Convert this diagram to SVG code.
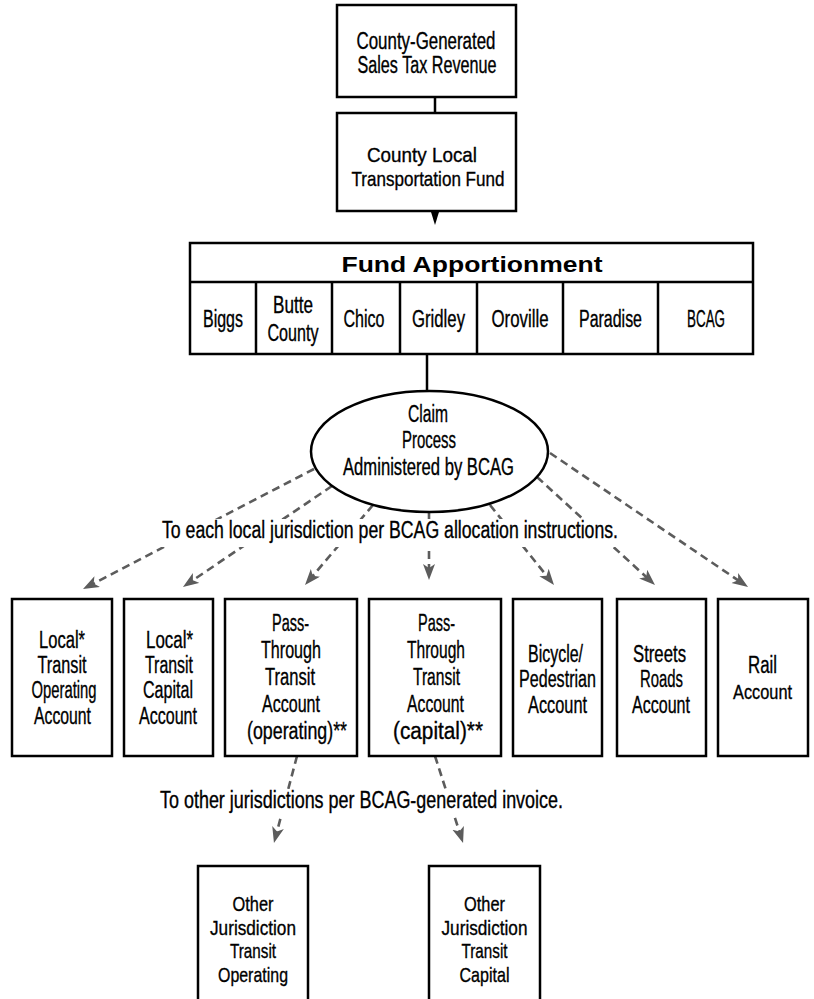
<svg xmlns="http://www.w3.org/2000/svg" width="814" height="999" viewBox="0 0 814 999">
<style>
.box{fill:#fff;stroke:#000;stroke-width:2.5}
.ln{fill:none;stroke:#000;stroke-width:2.5}
.da{fill:none;stroke:#5c5c5c;stroke-width:2.6;stroke-dasharray:8 5}
text{font-family:"Liberation Sans",Arial,sans-serif;font-size:23px;fill:#000;stroke:#000;stroke-width:0.35;text-anchor:middle}
.sm{font-size:21px}
.hd{font-weight:bold;font-size:22px;stroke-width:0}
</style>
<defs>
<marker id="ah" markerUnits="userSpaceOnUse" markerWidth="18" markerHeight="14" refX="8" refY="6" orient="auto">
<path d="M0,0 L16,6 L0,12 L4,6 z" fill="#5c5c5c"/>
</marker>
</defs>
<g id="connectors">
<line class="ln" x1="435" y1="97" x2="435" y2="113"/>
<path d="M431,212 L439,212 L435,225 z" fill="#000"/>
<line class="ln" x1="427" y1="354" x2="427" y2="391"/>
<line class="da" x1="314" y1="469" x2="90.1" y2="585.3" marker-end="url(#ah)"/>
<line class="da" x1="332" y1="486" x2="189.6" y2="582.5" marker-end="url(#ah)"/>
<line class="da" x1="373" y1="505" x2="310.2" y2="578.9" marker-end="url(#ah)"/>
<line class="da" x1="429" y1="512" x2="429" y2="572" marker-end="url(#ah)"/>
<line class="da" x1="490" y1="505" x2="549" y2="578.8" marker-end="url(#ah)"/>
<line class="da" x1="537" y1="477" x2="649.1" y2="579.6" marker-end="url(#ah)"/>
<line class="da" x1="550" y1="453" x2="741.4" y2="582.5" marker-end="url(#ah)"/>
<line class="da" x1="297" y1="756" x2="276" y2="835.3" marker-end="url(#ah)"/>
<line class="da" x1="435" y1="756" x2="460.6" y2="835.4" marker-end="url(#ah)"/>
<rect x="158" y="519" width="466" height="28" fill="#fff"/>
<text x="390" y="538" textLength="456" lengthAdjust="spacingAndGlyphs">To each local jurisdiction per BCAG allocation instructions.</text>
<rect x="156" y="789" width="412" height="27" fill="#fff"/>
<text x="361.5" y="808" textLength="403" lengthAdjust="spacingAndGlyphs">To other jurisdictions per BCAG-generated invoice.</text>
</g>
<g id="sales-tax">
<rect class="box" x="337" y="5" width="179" height="92"/>
<text x="426" y="49" textLength="139" lengthAdjust="spacingAndGlyphs">County-Generated</text>
<text x="427" y="73" textLength="139" lengthAdjust="spacingAndGlyphs">Sales Tax Revenue</text>
</g>
<g id="ltf">
<rect class="box" x="337" y="113" width="179" height="98"/>
<text class="sm" x="422" y="162" textLength="110" lengthAdjust="spacingAndGlyphs">County Local</text>
<text class="sm" x="428" y="186" textLength="153" lengthAdjust="spacingAndGlyphs">Transportation Fund</text>
</g>
<g id="apportionment">
<rect class="box" x="190" y="243" width="563" height="111"/>
<line class="ln" x1="190" y1="282" x2="753" y2="282"/>
<line class="ln" x1="256" y1="282" x2="256" y2="354"/>
<line class="ln" x1="332" y1="282" x2="332" y2="354"/>
<line class="ln" x1="400" y1="282" x2="400" y2="354"/>
<line class="ln" x1="477" y1="282" x2="477" y2="354"/>
<line class="ln" x1="563" y1="282" x2="563" y2="354"/>
<line class="ln" x1="658" y1="282" x2="658" y2="354"/>
<text class="hd" x="472" y="272" textLength="261" lengthAdjust="spacingAndGlyphs">Fund Apportionment</text>
<text x="223" y="327" textLength="40" lengthAdjust="spacingAndGlyphs">Biggs</text>
<text x="293" y="313" textLength="40" lengthAdjust="spacingAndGlyphs">Butte</text>
<text x="293" y="341" textLength="51" lengthAdjust="spacingAndGlyphs">County</text>
<text x="364" y="327" textLength="41" lengthAdjust="spacingAndGlyphs">Chico</text>
<text x="438.5" y="327" textLength="53" lengthAdjust="spacingAndGlyphs">Gridley</text>
<text x="520" y="327" textLength="57" lengthAdjust="spacingAndGlyphs">Oroville</text>
<text x="610.5" y="327" textLength="63" lengthAdjust="spacingAndGlyphs">Paradise</text>
<text x="706" y="327" textLength="38" lengthAdjust="spacingAndGlyphs">BCAG</text>
</g>
<g id="claim">
<ellipse class="box" cx="429.5" cy="451.5" rx="118.5" ry="60.5"/>
<text x="428" y="422" textLength="40" lengthAdjust="spacingAndGlyphs">Claim</text>
<text x="429" y="448" textLength="54" lengthAdjust="spacingAndGlyphs">Process</text>
<text x="428.5" y="475" textLength="171" lengthAdjust="spacingAndGlyphs">Administered by BCAG</text>
</g>
<g id="local-operating">
<rect class="box" x="12" y="599" width="100" height="157"/>
<text x="62" y="647.5" textLength="46" lengthAdjust="spacingAndGlyphs">Local*</text>
<text x="62" y="673" textLength="49" lengthAdjust="spacingAndGlyphs">Transit</text>
<text x="64" y="698" textLength="65" lengthAdjust="spacingAndGlyphs">Operating</text>
<text x="62.5" y="723.5" textLength="57" lengthAdjust="spacingAndGlyphs">Account</text>
</g>
<g id="local-capital">
<rect class="box" x="124" y="599" width="89" height="157"/>
<text x="169.5" y="647.5" textLength="47" lengthAdjust="spacingAndGlyphs">Local*</text>
<text x="169" y="673" textLength="48" lengthAdjust="spacingAndGlyphs">Transit</text>
<text x="168" y="698" textLength="50" lengthAdjust="spacingAndGlyphs">Capital</text>
<text x="168" y="723.5" textLength="58" lengthAdjust="spacingAndGlyphs">Account</text>
</g>
<g id="pass-operating">
<rect class="box" x="225" y="599" width="132" height="157"/>
<text x="290.5" y="631" textLength="37" lengthAdjust="spacingAndGlyphs">Pass-</text>
<text x="291" y="658" textLength="60" lengthAdjust="spacingAndGlyphs">Through</text>
<text x="290" y="685" textLength="50" lengthAdjust="spacingAndGlyphs">Transit</text>
<text x="291" y="712" textLength="58" lengthAdjust="spacingAndGlyphs">Account</text>
<text x="297" y="739" textLength="100" lengthAdjust="spacingAndGlyphs">(operating)**</text>
</g>
<g id="pass-capital">
<rect class="box" x="369" y="599" width="132" height="157"/>
<text x="436.5" y="631" textLength="37" lengthAdjust="spacingAndGlyphs">Pass-</text>
<text x="436" y="658" textLength="58" lengthAdjust="spacingAndGlyphs">Through</text>
<text x="436.5" y="685" textLength="47" lengthAdjust="spacingAndGlyphs">Transit</text>
<text x="435.5" y="712" textLength="57" lengthAdjust="spacingAndGlyphs">Account</text>
<text x="438" y="739" textLength="90" lengthAdjust="spacingAndGlyphs">(capital)**</text>
</g>
<g id="bicycle">
<rect class="box" x="513" y="599" width="89" height="157"/>
<text x="555.5" y="662" textLength="55" lengthAdjust="spacingAndGlyphs">Bicycle/</text>
<text x="557.5" y="687" textLength="77" lengthAdjust="spacingAndGlyphs">Pedestrian</text>
<text x="557.5" y="712.5" textLength="59" lengthAdjust="spacingAndGlyphs">Account</text>
</g>
<g id="streets">
<rect class="box" x="617" y="599" width="89" height="157"/>
<text x="659.5" y="662" textLength="53" lengthAdjust="spacingAndGlyphs">Streets</text>
<text x="661.5" y="687" textLength="43" lengthAdjust="spacingAndGlyphs">Roads</text>
<text x="661" y="712.5" textLength="58" lengthAdjust="spacingAndGlyphs">Account</text>
</g>
<g id="rail">
<rect class="box" x="718" y="599" width="90" height="157"/>
<text x="762.5" y="673" textLength="29" lengthAdjust="spacingAndGlyphs">Rail</text>
<text class="sm" x="762.5" y="699" textLength="59" lengthAdjust="spacingAndGlyphs">Account</text>
</g>
<g id="other-operating">
<rect class="box" x="198" y="866" width="110" height="150"/>
<text class="sm" x="253" y="911" textLength="41" lengthAdjust="spacingAndGlyphs">Other</text>
<text class="sm" x="253" y="935" textLength="86" lengthAdjust="spacingAndGlyphs">Jurisdiction</text>
<text class="sm" x="253" y="958" textLength="46" lengthAdjust="spacingAndGlyphs">Transit</text>
<text class="sm" x="253" y="982" textLength="70" lengthAdjust="spacingAndGlyphs">Operating</text>
</g>
<g id="other-capital">
<rect class="box" x="429" y="866" width="111" height="150"/>
<text class="sm" x="484.5" y="911" textLength="41" lengthAdjust="spacingAndGlyphs">Other</text>
<text class="sm" x="484.5" y="935" textLength="86" lengthAdjust="spacingAndGlyphs">Jurisdiction</text>
<text class="sm" x="484.5" y="958" textLength="46" lengthAdjust="spacingAndGlyphs">Transit</text>
<text class="sm" x="484.5" y="982" textLength="50" lengthAdjust="spacingAndGlyphs">Capital</text>
</g>
</svg>
